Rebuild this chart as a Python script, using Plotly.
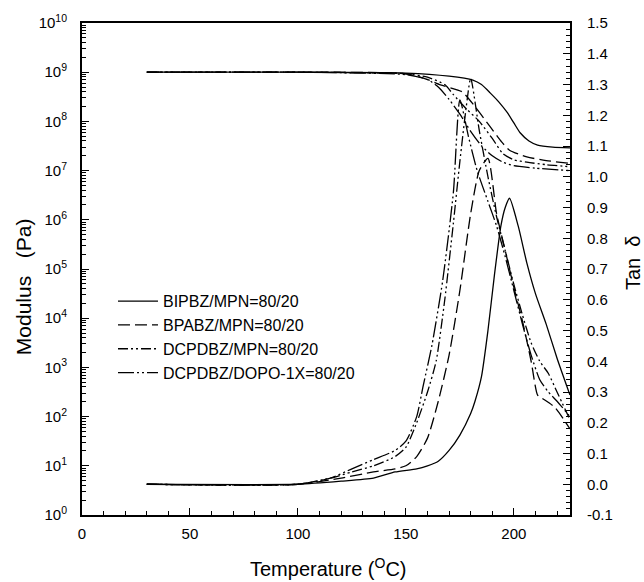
import plotly.graph_objects as go

# ---------------- data ----------------
# storage modulus (Pa)
T_mod_bipbz = [30, 100, 150, 170, 181, 185, 189, 193, 197, 200, 203, 207, 211, 218, 226]
E_bipbz = [1.0e9, 1.0e9, 9.6e8, 8.3e8, 6.9e8, 5.6e8, 3.8e8, 2.5e8, 1.5e8, 9.3e7, 5.8e7, 4.0e7, 3.3e7, 3.0e7, 2.9e7]

T_mod_bpabz = [30, 100, 150, 160, 166, 176, 182, 189, 194, 198, 206, 215, 226]
E_bpabz = [1.0e9, 1.0e9, 9.3e8, 7.1e8, 5.5e8, 4.0e8, 2.0e8, 7.8e7, 4.0e7, 2.6e7, 1.9e7, 1.6e7, 1.4e7]

T_mod_mpn = [30, 100, 150, 160, 168, 172, 178, 184, 190, 195, 200, 206, 215, 226]
E_mpn = [1.0e9, 1.0e9, 9.3e8, 7.9e8, 5.6e8, 3.5e8, 1.8e8, 1.0e8, 4.5e7, 2.2e7, 1.66e7, 1.48e7, 1.32e7, 1.2e7]

T_mod_dopo = [30, 100, 150, 160, 165, 170, 175, 180, 185, 190, 195, 200, 210, 226]
E_dopo = [1.0e9, 1.0e9, 8.9e8, 7.1e8, 5.0e8, 2.8e8, 1.4e8, 6.3e7, 3.2e7, 2.0e7, 1.48e7, 1.26e7, 1.12e7, 1.0e7]

# tan delta
T_tan_bipbz = [30, 100, 120, 135, 145, 155, 160, 165, 170, 175, 180, 182, 185, 188, 191, 194, 196, 198, 202, 206, 210, 215, 220, 226]
tan_bipbz = [0.0, 0.0, 0.01, 0.02, 0.04, 0.05, 0.06, 0.075, 0.11, 0.16, 0.23, 0.27, 0.35, 0.50, 0.68, 0.84, 0.90, 0.93, 0.84, 0.72, 0.62, 0.52, 0.41, 0.29]

T_tan_bpabz = [30, 100, 120, 135, 145, 150, 155, 160, 165, 170, 175, 180, 184, 188, 192, 196, 200, 204, 208, 211, 213, 219, 226]
tan_bpabz = [0.0, 0.0, 0.02, 0.04, 0.05, 0.06, 0.09, 0.15, 0.27, 0.42, 0.63, 0.88, 1.02, 1.06, 0.88, 0.76, 0.64, 0.53, 0.40, 0.29, 0.28, 0.25, 0.18]

T_tan_mpn = [30, 100, 115, 125, 135, 145, 150, 155, 160, 164, 168, 172, 175, 178, 180, 184, 188, 192, 196, 200, 204, 208, 212, 216, 220, 226]
tan_mpn = [0.0, 0.0, 0.02, 0.04, 0.06, 0.09, 0.12, 0.20, 0.30, 0.40, 0.60, 0.85, 1.05, 1.23, 1.32, 1.15, 1.0, 0.87, 0.76, 0.65, 0.55, 0.46, 0.40, 0.36, 0.30, 0.21]

T_tan_dopo = [30, 100, 115, 125, 135, 145, 150, 155, 158, 162, 167, 172, 175, 179, 183, 188, 192, 196, 200, 204, 208, 212, 216, 220, 226]
tan_dopo = [0.0, 0.0, 0.02, 0.05, 0.08, 0.11, 0.14, 0.22, 0.32, 0.45, 0.66, 0.95, 1.25, 1.13, 1.02, 0.92, 0.84, 0.74, 0.63, 0.52, 0.42, 0.34, 0.30, 0.27, 0.22]

series_names = ["BIPBZ/MPN=80/20", "BPABZ/MPN=80/20", "DCPDBZ/MPN=80/20", "DCPDBZ/DOPO-1X=80/20"]

mod_tickvals = [1e0, 1e1, 1e2, 1e3, 1e4, 1e5, 1e6, 1e7, 1e8, 1e9, 1e10]
mod_ticktext = ["10<sup>%d</sup>" % i for i in range(11)]
tan_tickvals = [-0.1, 0.0, 0.1, 0.2, 0.3, 0.4, 0.5, 0.6, 0.7, 0.8, 0.9, 1.0, 1.1, 1.2, 1.3, 1.4, 1.5]
tan_ticktext = ["-0.1", "0.0", "0.1", "0.2", "0.3", "0.4", "0.5", "0.6", "0.7", "0.8", "0.9", "1.0", "1.1", "1.2", "1.3", "1.4", "1.5"]
x_tickvals = [0, 50, 100, 150, 200]

# ---------------- styles ----------------
FONT = "Arial, Liberation Sans, sans-serif"
dashes = ["solid", "12px,5px", "10px,3px,2px,3px,2px,3px", "16px,3px,2px,3px,2px,3px"]
LW = 1.3

mods = [(T_mod_bipbz, E_bipbz), (T_mod_bpabz, E_bpabz), (T_mod_mpn, E_mpn), (T_mod_dopo, E_dopo)]
tans = [(T_tan_bipbz, tan_bipbz), (T_tan_bpabz, tan_bpabz), (T_tan_mpn, tan_mpn), (T_tan_dopo, tan_dopo)]

fig = go.Figure()
for i, (name, (tx, ty)) in enumerate(zip(series_names, mods)):
    fig.add_trace(go.Scatter(x=tx, y=ty, mode="lines", name=name, legendgroup=name,
                             line=dict(color="black", width=LW, dash=dashes[i], shape="spline", smoothing=0.6),
                             showlegend=True, yaxis="y"))
for i, (name, (tx, ty)) in enumerate(zip(series_names, tans)):
    fig.add_trace(go.Scatter(x=tx, y=ty, mode="lines", name=name, legendgroup=name,
                             line=dict(color="black", width=LW, dash=dashes[i], shape="spline", smoothing=0.6),
                             showlegend=False, yaxis="y2"))

axis_common = dict(showline=True, linecolor="black", linewidth=2, showgrid=False, zeroline=False,
                   ticks="inside", ticklen=7, tickwidth=1.2, tickcolor="black",
                   tickfont=dict(family=FONT, size=15, color="black"))

fig.update_layout(
    width=644, height=582,
    margin=dict(l=82, r=74, t=23, b=67),
    paper_bgcolor="white", plot_bgcolor="white",
    font=dict(family=FONT, color="black"),
    xaxis=dict(range=[0, 226], tickmode="array", tickvals=x_tickvals, mirror=True,
               minor=dict(ticks="inside", ticklen=4, tickmode="linear", tick0=0, dtick=10, tickcolor="black"),
               ticklabelstandoff=4, **axis_common),
    yaxis=dict(type="log", range=[0, 10], tickmode="array", tickvals=mod_tickvals, ticktext=mod_ticktext,
               minor=dict(ticks="inside", ticklen=4, dtick="D1", tickcolor="black"),
               ticklabelstandoff=10, **axis_common),
    yaxis2=dict(overlaying="y", side="right", range=[-0.1, 1.5], tickmode="array",
                tickvals=tan_tickvals, ticktext=tan_ticktext,
                minor=dict(ticks="inside", ticklen=4, tickmode="linear", tick0=-0.1, dtick=0.02, tickcolor="black"),
                ticklabelstandoff=12, **axis_common),
    legend=dict(x=0.0635, y=0.469, xanchor="left", yanchor="top", bgcolor="rgba(0,0,0,0)",
                font=dict(family=FONT, size=16, color="black"), itemwidth=40, tracegroupgap=0),
    showlegend=True,
    annotations=[
        dict(text="Modulus&nbsp;&nbsp;&nbsp;(Pa)", xref="paper", yref="paper", x=-0.121, y=0.465, showarrow=False,
             textangle=-90, font=dict(family=FONT, size=21, color="black"), xanchor="center", yanchor="middle"),
        dict(text="Tan&nbsp;&nbsp;δ", xref="paper", yref="paper", x=1.129, y=0.514, showarrow=False,
             textangle=-90, font=dict(family=FONT, size=20, color="black"), xanchor="center", yanchor="middle"),
        dict(text="Temperature (<sup>O</sup>C)", xref="paper", yref="paper", x=0.506, y=-0.106, showarrow=False,
             font=dict(family=FONT, size=20, color="black"), xanchor="center", yanchor="middle"),
    ],
)

fig.write_html("out.html", config={"displayModeBar": False},
               post_script="document.body.style.margin='0';document.body.style.overflow='hidden';")
